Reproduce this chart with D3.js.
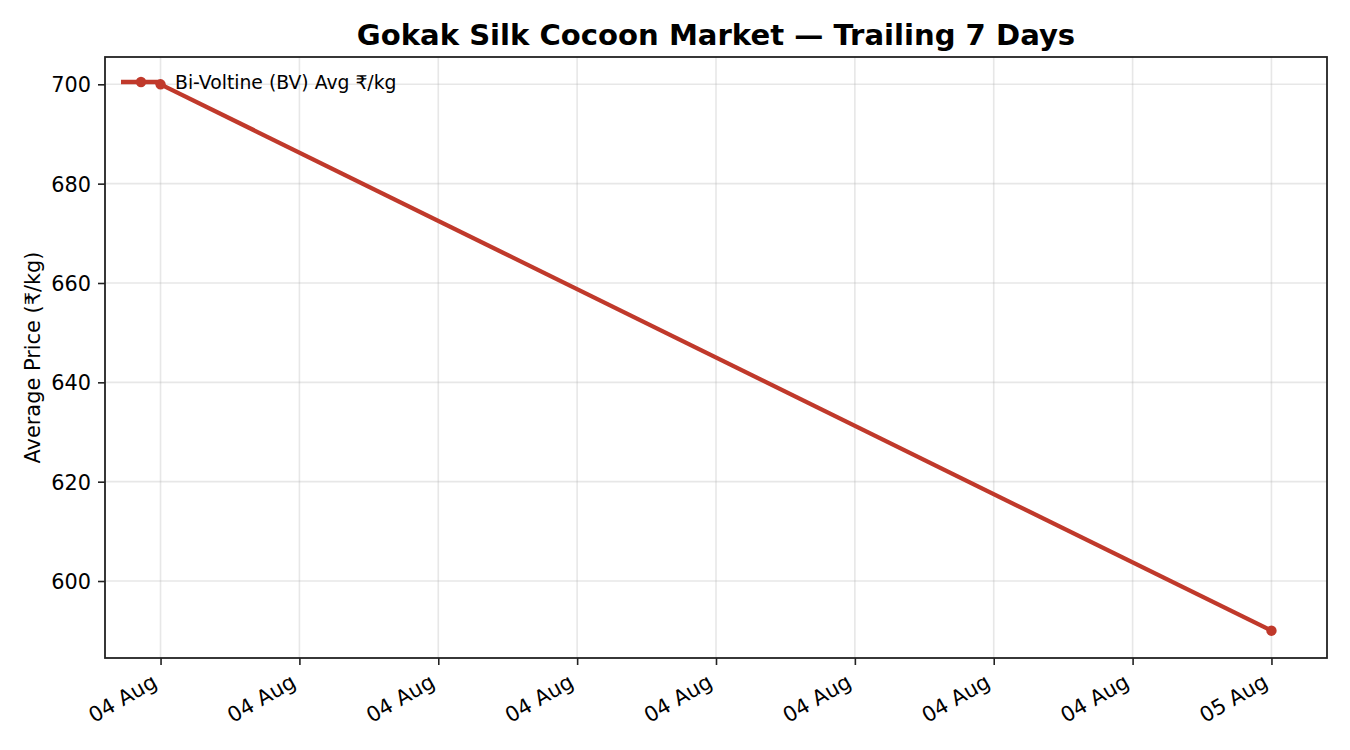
<!DOCTYPE html>
<html>
<head>
<meta charset="utf-8">
<script src="https://cdn.jsdelivr.net/npm/d3@7"></script>
<style>
  html, body { margin: 0; padding: 0; background: #fff; }
  svg { display: block; font-family: "DejaVu Sans", sans-serif; }
</style>
</head>
<body>
<svg id="chart" width="1350" height="750"></svg>
<script>
// ---- data ----
const dates = ["2024-08-04T00:00:00Z", "2024-08-05T00:00:00Z"];
const bvPrices = [700, 590];
const yTicks = [600, 620, 640, 660, 680, 700];
const seriesName = "Bi-Voltine (BV) Avg \u20B9/kg";
const titleText = "Gokak Silk Cocoon Market \u2014 Trailing 7 Days";
const yLabelText = "Average Price (\u20B9/kg)";

// ---- layout ----
const m = { left: 105, right: 1327, top: 57, bottom: 658 };
const color = "#c0392b";
const svg = d3.select("#chart");

const parsed = dates.map(d => new Date(d));
const data = parsed.map((d, i) => ({ date: d, value: bvPrices[i] }));

const xExt = d3.extent(parsed);
const xPad = (xExt[1] - xExt[0]) * 0.05;
const x = d3.scaleUtc()
  .domain([new Date(+xExt[0] - xPad), new Date(+xExt[1] + xPad)])
  .range([m.left, m.right]);

const yExt = d3.extent(bvPrices);
const yPad = (yExt[1] - yExt[0]) * 0.05;
const y = d3.scaleLinear()
  .domain([yExt[0] - yPad, yExt[1] + yPad])
  .range([m.bottom, m.top]);

const xTickVals = d3.utcHour.every(3).range(xExt[0], new Date(+xExt[1] + 1));
const fmt = d3.utcFormat("%d %b");

// grid
const grid = svg.append("g");
grid.selectAll("line.gx").data(xTickVals).join("line")
  .attr("x1", d => x(d)).attr("x2", d => x(d))
  .attr("y1", m.top).attr("y2", m.bottom)
  .attr("stroke", "#b0b0b0").attr("stroke-opacity", 0.3).attr("stroke-width", 1.6);
grid.selectAll("line.gy").data(yTicks).join("line")
  .attr("x1", m.left).attr("x2", m.right)
  .attr("y1", d => y(d)).attr("y2", d => y(d))
  .attr("stroke", "#b0b0b0").attr("stroke-opacity", 0.3).attr("stroke-width", 1.6);

// line
const line = d3.line().x(d => x(d.date)).y(d => y(d.value));
svg.append("path").datum(data)
  .attr("d", line)
  .attr("fill", "none")
  .attr("stroke", color)
  .attr("stroke-width", 4.3)
  .attr("stroke-linejoin", "round");
svg.selectAll("circle.pt").data(data).join("circle")
  .attr("cx", d => x(d.date)).attr("cy", d => y(d.value))
  .attr("r", 5.2).attr("fill", color);

// axes
const xAxis = d3.axisBottom(x).tickValues(xTickVals).tickFormat(fmt).tickSize(7).tickPadding(7);
const gx = svg.append("g").attr("transform", `translate(0,${m.bottom})`).call(xAxis);
gx.select(".domain").remove();
gx.selectAll(".tick line").attr("stroke", "#222").attr("stroke-width", 1.6);
gx.selectAll(".tick text")
  .attr("font-size", 21).attr("font-family", "DejaVu Sans").attr("fill", "#000")
  .attr("text-anchor", "end")
  .attr("y", 0).attr("dy", 0)
  .attr("transform", "translate(-2.6,28) rotate(-30)");

const yAxis = d3.axisLeft(y).tickValues(yTicks).tickSize(7).tickPadding(7);
const gy = svg.append("g").attr("transform", `translate(${m.left},0)`).call(yAxis);
gy.select(".domain").remove();
gy.selectAll(".tick line").attr("stroke", "#222").attr("stroke-width", 1.6);
gy.selectAll(".tick text").attr("font-size", 20.8).attr("font-family", "DejaVu Sans").attr("fill", "#000").attr("dy", "0.36em");

// frame
svg.append("rect")
  .attr("x", m.left).attr("y", m.top)
  .attr("width", m.right - m.left).attr("height", m.bottom - m.top)
  .attr("fill", "none").attr("stroke", "#222").attr("stroke-width", 1.8);

// title
svg.append("text")
  .attr("x", (m.left + m.right) / 2).attr("y", 45)
  .attr("text-anchor", "middle")
  .attr("font-size", 29.1).attr("font-weight", "bold").attr("fill", "#000")
  .text(titleText);

// y label
svg.append("text")
  .attr("transform", `translate(40,${(m.top + m.bottom) / 2}) rotate(-90)`)
  .attr("text-anchor", "middle")
  .attr("font-size", 20.9).attr("fill", "#000")
  .text(yLabelText);

// legend
const lg = svg.append("g").attr("transform", "translate(121,82)");
lg.append("line").attr("x1", 0).attr("x2", 40).attr("y1", 0).attr("y2", 0)
  .attr("stroke", color).attr("stroke-width", 4.3);
lg.append("circle").attr("cx", 20).attr("cy", 0).attr("r", 5.2).attr("fill", color);
lg.append("text").attr("x", 54).attr("y", 0).attr("dy", "0.36em")
  .attr("font-size", 18.8).attr("fill", "#000").text(seriesName);
</script>
</body>
</html>
